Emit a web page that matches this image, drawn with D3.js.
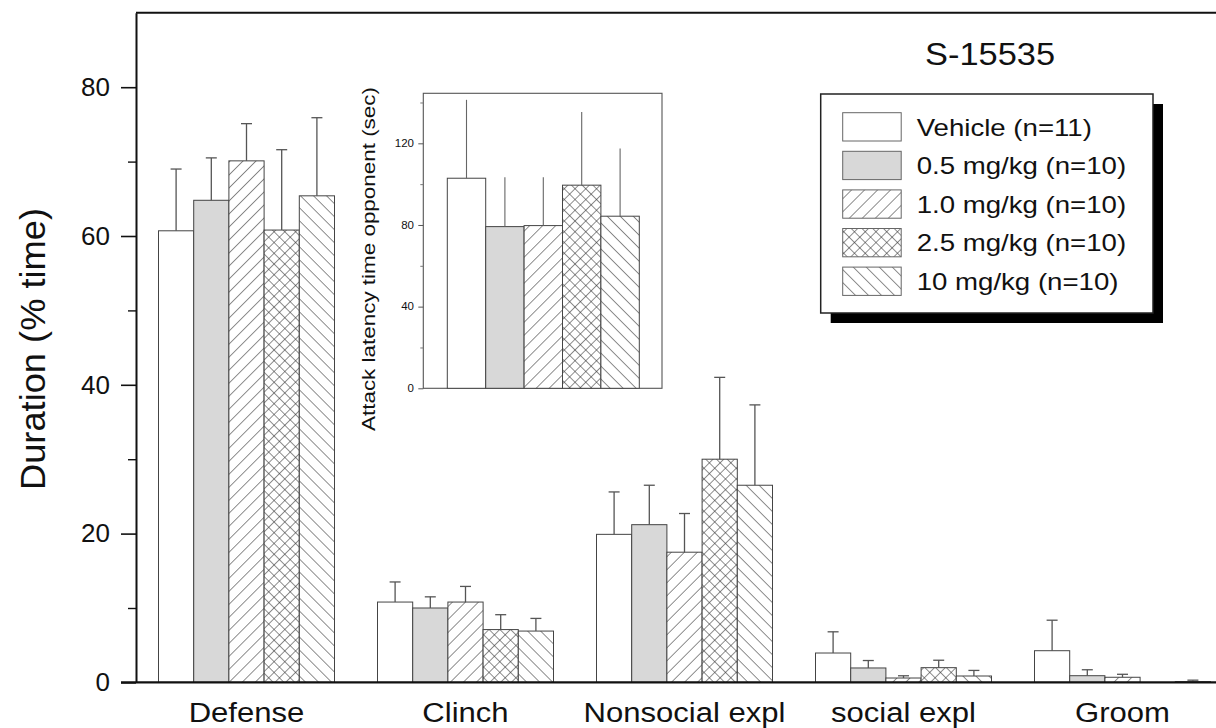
<!DOCTYPE html>
<html>
<head>
<meta charset="utf-8">
<script src="https://cdn.jsdelivr.net/npm/d3@7"></script>
<style>
  body { margin: 0; background: #fff; }
  svg { display: block; }
  text { font-family: "Liberation Sans", Arial, Helvetica, sans-serif; fill: #111; }
</style>
</head>
<body>
<svg id="chart" width="1216" height="728"></svg>
<script>
// Behaviour categories and treatment groups
const categories = ["Defense", "Clinch", "Nonsocial expl", "social expl", "Groom"];
const groups = ["Vehicle (n=11)", "0.5 mg/kg (n=10)", "1.0 mg/kg (n=10)", "2.5 mg/kg (n=10)", "10 mg/kg (n=10)"];

// Duration (% time), mean per category, one array per group
const meanVehicle = [60.7, 10.8, 19.9, 3.95, 4.26];
const meanDose05  = [64.8, 10.0, 21.2, 1.94, 0.9];
const meanDose10  = [70.1, 10.8, 17.5, 0.59, 0.69];
const meanDose25  = [60.8, 7.1, 30.0, 1.98, 0.0];
const meanDose100 = [65.4, 6.9, 26.5, 0.86, 0.1];

// SEM (upper error only)
const semVehicle = [8.3, 2.7, 5.7, 2.85, 4.1];
const semDose05  = [5.7, 1.5, 5.3, 1.0, 0.8];
const semDose10  = [5.0, 2.1, 5.2, 0.3, 0.4];
const semDose25  = [10.8, 2.0, 11.0, 1.0, 0.0];
const semDose100 = [10.5, 1.7, 10.8, 0.75, 0.2];

// Inset: attack latency (sec) per group
const latencyMean = [102.9, 79.2, 79.7, 99.5, 84.3];
const latencySem  = [38.4, 24.2, 23.7, 35.8, 33.2];

// Tick values
const yTicks = [0, 20, 40, 60, 80];
const yMinorTicks = [10, 30, 50, 70];
const insetTicks = [0, 40, 80, 120];
const insetMinorTicks = [20, 60, 100, 140];

const titleText = "S-15535";
const yLabel = "Duration (% time)";
const insetLabel = "Attack latency time opponent (sec)";

const means = [meanVehicle, meanDose05, meanDose10, meanDose25, meanDose100];
const sems = [semVehicle, semDose05, semDose10, semDose25, semDose100];

const svg = d3.select("#chart");
svg.append("rect").attr("width", 1216).attr("height", 728).attr("fill", "#fff");

// ---- fill patterns ----
const defs = svg.append("defs");
function linePattern(id, size, angle, cross) {
  const p = defs.append("pattern")
    .attr("id", id)
    .attr("patternUnits", "userSpaceOnUse")
    .attr("width", size).attr("height", size)
    .attr("patternTransform", `rotate(${angle})`);
  p.append("rect").attr("width", size).attr("height", size).attr("fill", "#fff");
  p.append("line").attr("x1", 0).attr("y1", 0).attr("x2", 0).attr("y2", size)
    .attr("stroke", "#333").attr("stroke-width", 1.1);
  if (cross) {
    p.append("line").attr("x1", 0).attr("y1", 0).attr("x2", size).attr("y2", 0)
      .attr("stroke", "#333").attr("stroke-width", 1.1);
  }
}
linePattern("hatchFwd", 9.2, 45, false);
linePattern("hatchBack", 9.2, -45, false);
linePattern("crossHatch", 7.6, 45, true);

const fills = ["#fff", "#d8d8d8", "url(#hatchFwd)", "url(#crossHatch)", "url(#hatchBack)"];
const fillScale = d3.scaleOrdinal().domain(groups).range(fills);

// ---- main chart scales ----
const y = d3.scaleLinear().domain([0, 90]).range([682.4, 12.8]);
const x0 = d3.scaleBand().domain(categories).range([137, 1232]);
const x1 = d3.scaleBand().domain(groups).range([21.5, 197.5]);

// frame: top line
svg.append("line")
  .attr("x1", 136).attr("x2", 1216).attr("y1", y(90)).attr("y2", y(90))
  .attr("stroke", "#111").attr("stroke-width", 2);

// bars
const barData = [];
categories.forEach((c, ci) => {
  groups.forEach((g, gi) => {
    barData.push({ cat: c, group: g, value: means[gi][ci], sem: sems[gi][ci] });
  });
});

const barG = svg.append("g");
barG.selectAll("rect.bar").data(barData).join("rect")
  .attr("class", "bar")
  .attr("x", d => x0(d.cat) + x1(d.group))
  .attr("y", d => y(d.value))
  .attr("width", x1.bandwidth())
  .attr("height", d => y(0) - y(d.value))
  .attr("fill", d => fillScale(d.group))
  .attr("stroke", "#444")
  .attr("stroke-width", 1);

// error bars (upper only, with cap)
const errG = svg.append("g").attr("stroke", "#555").attr("stroke-width", 1.3);
barData.filter(d => d.sem > 0).forEach(d => {
  const cx = x0(d.cat) + x1(d.group) + x1.bandwidth() / 2;
  errG.append("line").attr("x1", cx).attr("x2", cx)
    .attr("y1", y(d.value)).attr("y2", y(d.value + d.sem));
  errG.append("line").attr("x1", cx - 5.5).attr("x2", cx + 5.5)
    .attr("y1", y(d.value + d.sem)).attr("y2", y(d.value + d.sem));
});

// y axis: major ticks with labels
const yAxisG = svg.append("g").attr("transform", "translate(136,0)")
  .call(d3.axisLeft(y).tickValues(yTicks).tickSize(15).tickSizeOuter(0).tickPadding(11).tickFormat(d3.format("d")));
yAxisG.select(".domain").attr("stroke", "#111").attr("stroke-width", 2);
yAxisG.selectAll(".tick line").attr("stroke", "#111").attr("stroke-width", 1.6);
yAxisG.selectAll(".tick text").attr("font-size", 26).attr("fill", "#111")
  .style("font-family", "'Liberation Sans', Arial, sans-serif");

// y axis: minor ticks
const yMinorG = svg.append("g").attr("transform", "translate(136,0)")
  .call(d3.axisLeft(y).tickValues(yMinorTicks).tickSize(8).tickSizeOuter(0).tickFormat(""));
yMinorG.select(".domain").remove();
yMinorG.selectAll(".tick line").attr("stroke", "#111").attr("stroke-width", 1.4);

// x axis labels
const xAxisG = svg.append("g").attr("transform", `translate(0,${y(0)})`)
  .call(d3.axisBottom(x0).tickSize(0).tickPadding(20));
xAxisG.select(".domain").remove();
xAxisG.selectAll(".tick text").attr("font-size", 27).attr("fill", "#111")
  .attr("data-stretch", 1.15)
  .style("font-family", "'Liberation Sans', Arial, sans-serif");

// baseline
svg.append("line")
  .attr("x1", 121).attr("x2", 1216).attr("y1", y(0)).attr("y2", y(0))
  .attr("stroke", "#111").attr("stroke-width", 2.4);

// y axis title
svg.append("text")
  .attr("transform", `translate(32.5,349) rotate(-90)`)
  .attr("text-anchor", "middle")
  .attr("dominant-baseline", "central")
  .attr("font-size", 35)
  .attr("data-width", 282)
  .text(yLabel);

// title
svg.append("text")
  .attr("x", 990).attr("y", 65)
  .attr("text-anchor", "middle")
  .attr("font-size", 32)
  .attr("data-width", 130)
  .text(titleText);

// ---- legend ----
const lg = svg.append("g");
const box = { x: 820.7, y: 94, w: 332.3, h: 219 };
lg.append("rect").attr("x", box.x + 10).attr("y", box.y + 10)
  .attr("width", box.w).attr("height", box.h).attr("fill", "#000");
lg.append("rect").attr("x", box.x).attr("y", box.y)
  .attr("width", box.w).attr("height", box.h)
  .attr("fill", "#fff").attr("stroke", "#222").attr("stroke-width", 1.5);
const legendY = d3.scaleBand().domain(groups).range([108, 301]);
groups.forEach(g => {
  const top = legendY(g) + 4.7;
  lg.append("rect").attr("x", 842.7).attr("y", top)
    .attr("width", 58.5).attr("height", 28.3)
    .attr("fill", fillScale(g)).attr("stroke", "#666").attr("stroke-width", 1);
  lg.append("text").attr("x", 916.7).attr("y", top + 14.2 + 8.6)
    .attr("font-size", 24)
    .attr("data-stretch", 1.15)
    .text(g);
});

// ---- inset: attack latency ----
const inset = svg.append("g");
const yi = d3.scaleLinear().domain([0, 144.5]).range([388.3, 93.3]);
const xi = d3.scaleBand().domain(groups).range([447.3, 639.3]);
const frame = { x0: 423.3, x1: 662 };

inset.append("rect")
  .attr("x", frame.x0).attr("y", yi(144.5))
  .attr("width", frame.x1 - frame.x0).attr("height", yi(0) - yi(144.5))
  .attr("fill", "#fff").attr("stroke", "#555").attr("stroke-width", 1.1);

inset.selectAll("rect.ibar").data(groups).join("rect")
  .attr("class", "ibar")
  .attr("x", g => xi(g))
  .attr("y", (g, i) => yi(latencyMean[i]))
  .attr("width", xi.bandwidth())
  .attr("height", (g, i) => yi(0) - yi(latencyMean[i]))
  .attr("fill", g => fillScale(g))
  .attr("stroke", "#444").attr("stroke-width", 1);

inset.selectAll("line.ierr").data(groups).join("line")
  .attr("class", "ierr")
  .attr("x1", g => xi(g) + xi.bandwidth() / 2)
  .attr("x2", g => xi(g) + xi.bandwidth() / 2)
  .attr("y1", (g, i) => yi(latencyMean[i]))
  .attr("y2", (g, i) => yi(latencyMean[i] + latencySem[i]))
  .attr("stroke", "#666").attr("stroke-width", 1.1);

const iAxis = inset.append("g").attr("transform", `translate(${frame.x0},0)`)
  .call(d3.axisLeft(yi).tickValues(insetTicks).tickSize(5).tickSizeOuter(0).tickPadding(4.3).tickFormat(d3.format("d")));
iAxis.select(".domain").remove();
iAxis.selectAll(".tick line").attr("stroke", "#555");
iAxis.selectAll(".tick text").attr("font-size", 10).attr("fill", "#333")
  .attr("data-stretch", 1.15)
  .style("font-family", "'Liberation Sans', Arial, sans-serif");

const iMinor = inset.append("g").attr("transform", `translate(${frame.x0},0)`)
  .call(d3.axisLeft(yi).tickValues(insetMinorTicks).tickSize(3).tickSizeOuter(0).tickFormat(""));
iMinor.select(".domain").remove();
iMinor.selectAll(".tick line").attr("stroke", "#777");

inset.append("text")
  .attr("transform", `translate(368.5,259) rotate(-90)`)
  .attr("text-anchor", "middle")
  .attr("dominant-baseline", "central")
  .attr("font-size", 19)
  .attr("fill", "#222")
  .attr("data-stretch", 1.18)
  .text(insetLabel);

// widen the typeface horizontally where the lettering runs wide
svg.selectAll("text").each(function () {
  const el = d3.select(this);
  const w = el.attr("data-width");
  const k = el.attr("data-stretch");
  let target = null;
  if (w) target = +w;
  else if (k) target = this.getComputedTextLength() * (+k);
  if (target) el.attr("textLength", target).attr("lengthAdjust", "spacingAndGlyphs");
});
</script>
</body>
</html>
